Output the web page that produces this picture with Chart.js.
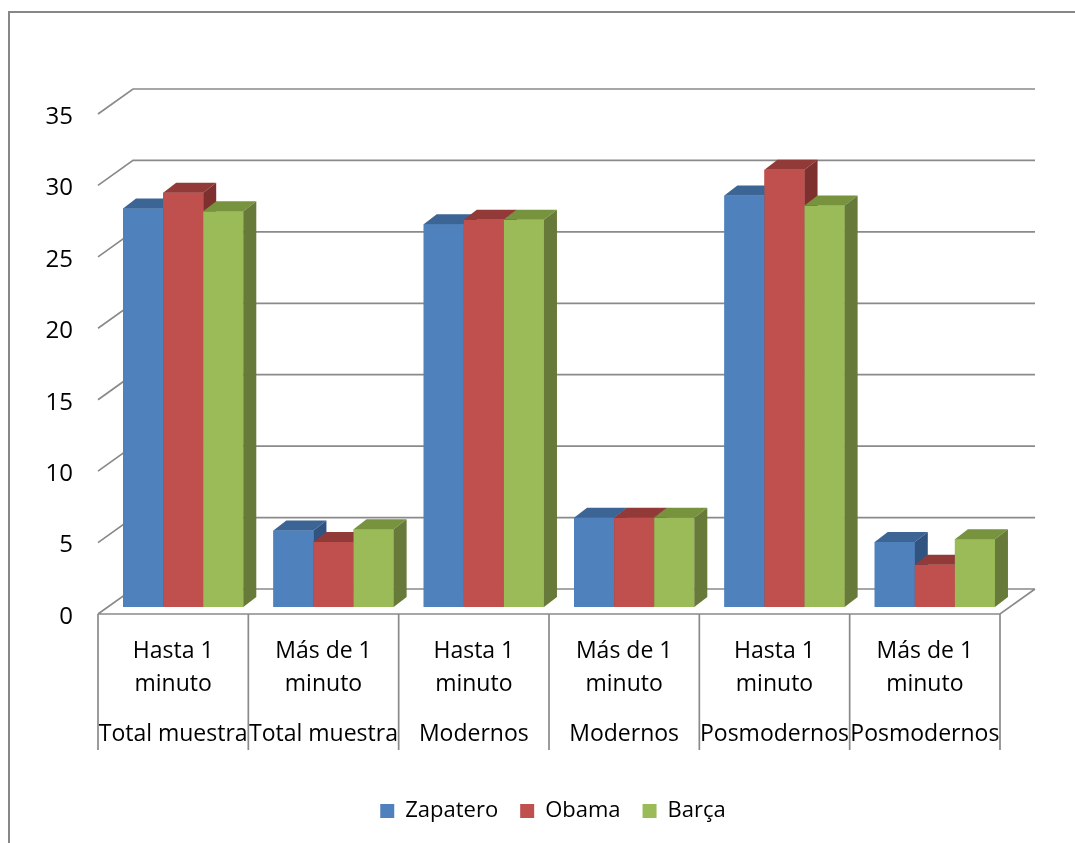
<!DOCTYPE html>
<html>
<head>
<meta charset="utf-8">
<script src="https://cdn.jsdelivr.net/npm/chart.js@4.4.1/dist/chart.umd.min.js"></script>
<style>
  html, body { margin: 0; padding: 0; background: #ffffff; }
  #wrap { width: 1075px; height: 843px; position: relative; }
</style>
</head>
<body>
<div id="wrap"><canvas id="chart" width="1075" height="843"></canvas></div>
<script>
// Category labels (two lines each) and their group labels
const categories = [
  ["Hasta 1", "minuto"], ["Más de 1", "minuto"],
  ["Hasta 1", "minuto"], ["Más de 1", "minuto"],
  ["Hasta 1", "minuto"], ["Más de 1", "minuto"]
];
const groups = ["Total muestra", "Total muestra", "Modernos", "Modernos", "Posmodernos", "Posmodernos"];

// Series values
const zapatero = [27.9, 5.35, 26.8, 6.25, 28.8, 4.55];
const obama    = [29.0, 4.55, 27.1, 6.25, 30.6, 2.95];
const barca    = [27.7, 5.45, 27.1, 6.25, 28.1, 4.75];

// Value axis ticks
const yMin = 0, yMax = 35, yStep = 5;

const seriesNames = ["Zapatero", "Obama", "Barça"];
const frontColors = ["#4F81BD", "#C0504D", "#9BBB59"];
const topColors   = ["#3C6494", "#923A38", "#77933D"];
const sideColors  = ["#31537F", "#7D302E", "#677A39"];

// 3D projection offsets relative to the plane the bars stand on
const FRONT = { dx: -10, dy: 7 };   // front edge of the floor
const BACK  = { dx: 25, dy: -18 };  // back wall
const BAR   = { dx: 13, dy: -10 };  // depth of each bar
const GRID_COLOR = "#8a8a8a";

Chart.defaults.font.family = "'Open Sans', sans-serif";
Chart.defaults.color = "#000000";

const X_PAD = 28, X2_PAD = 11, LABEL_LH = 33;

const box3d = {
  id: "box3d",
  beforeDraw(chart) {
    const ctx = chart.ctx;
    ctx.save();
    ctx.strokeStyle = "#878787";
    ctx.lineWidth = 2;
    ctx.beginPath();
    ctx.moveTo(9, chart.height + 2);
    ctx.lineTo(9, 12);
    ctx.lineTo(chart.width + 2, 12);
    ctx.stroke();
    ctx.restore();
  },
  beforeDatasetsDraw(chart) {
    const ctx = chart.ctx;
    const ys = chart.scales.y, xs = chart.scales.x, x2 = chart.scales.x2;
    const { left, right } = chart.chartArea;
    ctx.save();
    ctx.strokeStyle = GRID_COLOR;
    ctx.lineWidth = 1.7;
    ctx.beginPath();
    ys.ticks.forEach(t => {
      const p = ys.getPixelForValue(t.value);
      ctx.moveTo(left + FRONT.dx, p + FRONT.dy);
      ctx.lineTo(left + BACK.dx, p + BACK.dy);
      ctx.lineTo(right + BACK.dx, p + BACK.dy);
    });
    const p0 = ys.getPixelForValue(0);
    ctx.moveTo(left + FRONT.dx, p0 + FRONT.dy);
    ctx.lineTo(right + FRONT.dx, p0 + FRONT.dy);
    ctx.lineTo(right + BACK.dx, p0 + BACK.dy);
    // category dividers under the floor
    const slot = xs.getPixelForValue(1) - xs.getPixelForValue(0);
    const bottom = x2.top + X2_PAD + LABEL_LH - 1;
    for (let k = 0; k <= categories.length; k++) {
      const x = xs.getPixelForValue(0) - slot / 2 + k * slot + FRONT.dx;
      ctx.moveTo(x, p0 + FRONT.dy);
      ctx.lineTo(x, bottom);
    }
    ctx.stroke();
    ctx.restore();
  },
  afterDatasetsDraw(chart) {
    const ctx = chart.ctx;
    const metas = [0, 1, 2].map(i => chart.getDatasetMeta(i));
    ctx.save();
    for (let i = 0; i < categories.length; i++) {
      metas.forEach((meta, d) => {
        const el = meta.data[i];
        const { x, y, base, width } = el.getProps(["x", "y", "base", "width"], true);
        const l = x - width / 2, r = x + width / 2;
        // front face
        ctx.fillStyle = frontColors[d];
        ctx.fillRect(l, y, r - l, base - y);
        // top face
        ctx.fillStyle = topColors[d];
        ctx.beginPath();
        ctx.moveTo(l, y);
        ctx.lineTo(l + BAR.dx, y + BAR.dy);
        ctx.lineTo(r + BAR.dx, y + BAR.dy);
        ctx.lineTo(r, y);
        ctx.closePath();
        ctx.fill();
        // side face
        ctx.fillStyle = sideColors[d];
        ctx.beginPath();
        ctx.moveTo(r, y);
        ctx.lineTo(r + BAR.dx, y + BAR.dy);
        ctx.lineTo(r + BAR.dx, base + BAR.dy);
        ctx.lineTo(r, base);
        ctx.closePath();
        ctx.fill();
      });
    }
    ctx.restore();
  }
};

const seriesData = [zapatero, obama, barca];

new Chart(document.getElementById("chart"), {
  type: "bar",
  data: {
    labels: categories,
    datasets: seriesData.map((vals, d) => ({
      label: seriesNames[d],
      data: vals,
      backgroundColor: frontColors[d],
      borderWidth: 0,
      categoryPercentage: 0.8,
      barPercentage: 1.0,
      xAxisID: "x",
      yAxisID: "y"
    }))
  },
  options: {
    responsive: false,
    animation: false,
    devicePixelRatio: 1,
    layout: { padding: { top: 107, right: 0, left: 31, bottom: 11 } },
    plugins: {
      tooltip: { enabled: false },
      legend: {
        position: "bottom",
        labels: {
          boxWidth: 14,
          boxHeight: 14,
          padding: 22,
          font: { size: 22 },
          color: "#000000"
        }
      }
    },
    scales: {
      y: {
        min: yMin,
        max: yMax,
        ticks: { stepSize: yStep, padding: 35, labelOffset: 10, font: { size: 24 }, color: "#000000" },
        grid: { display: false, drawTicks: false },
        border: { display: false },
        afterFit(scale) { scale.width = 77; }
      },
      // empty margin on the right of the plot (room for the 3D back wall)
      yMargin: {
        type: "linear",
        position: "right",
        ticks: { display: false },
        grid: { display: false, drawTicks: false },
        border: { display: false },
        afterFit(scale) { scale.width = 65; }
      },
      x: {
        type: "category",
        offset: true,
        ticks: { padding: X_PAD, labelOffset: FRONT.dx, maxRotation: 0, autoSkip: false,
                 font: { size: 23, lineHeight: LABEL_LH / 23 }, color: "#000000" },
        grid: { display: false, drawTicks: false },
        border: { display: false },
        afterFit(scale) { scale.height = 100; }
      },
      x2: {
        type: "category",
        position: "bottom",
        weight: 1,
        offset: true,
        labels: groups,
        ticks: { padding: X2_PAD, labelOffset: FRONT.dx, maxRotation: 0, autoSkip: false,
                 font: { size: 23, lineHeight: LABEL_LH / 23 }, color: "#000000" },
        grid: { display: false, drawTicks: false },
        border: { display: false },
        afterFit(scale) { scale.height = 71; }
      }
    }
  },
  plugins: [box3d]
});
</script>
</body>
</html>
